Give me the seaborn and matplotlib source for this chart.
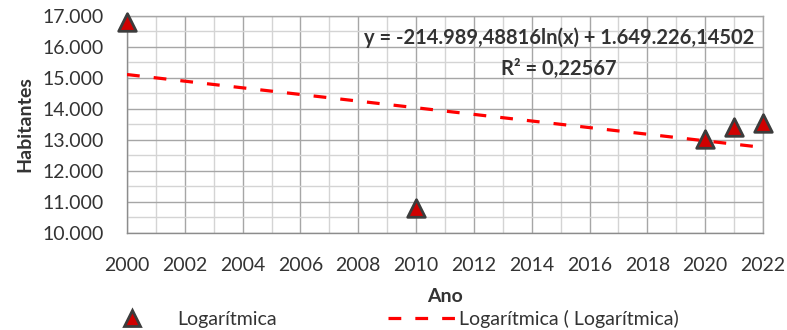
import numpy as np
import pandas as pd
import seaborn as sns
import matplotlib
matplotlib.use("Agg")
import matplotlib.pyplot as plt
from matplotlib.lines import Line2D
from matplotlib.ticker import FuncFormatter, MultipleLocator

# Population by year
anos = [2000, 2010, 2020, 2021, 2022]
habitantes = [16800, 10810, 13030, 13420, 13540]

# Logarithmic trend coefficients: y = a*ln(x) + b
coef_a = -214989.48816
coef_b = 1649226.14502
r2_label = "R² = 0,22567"
eq_label = "y = -214.989,48816ln(x) + 1.649.226,14502"

serie_label = "Logarítmica"
trend_label = "Logarítmica ( Logarítmica)"

sns.set_theme(style="white")
plt.rcParams["font.family"] = ["Lato", "DejaVu Sans"]

df = pd.DataFrame({"Ano": anos, "Habitantes": habitantes})
trend_x = np.linspace(min(anos), 2022, 200)
trend_df = pd.DataFrame({"Ano": trend_x,
                         "Habitantes": coef_a * np.log(trend_x) + coef_b})

text_col = "#333333"
fs = 14

fig = plt.figure(figsize=(7.87, 3.30), dpi=100)
ax = fig.add_axes([127 / 787, 1 - 233 / 330, (763 - 127) / 787, (233 - 16) / 330])

ax.set_xlim(2000, 2022)
ax.set_ylim(10000, 17000)
ax.xaxis.set_major_locator(MultipleLocator(2))
ax.xaxis.set_minor_locator(MultipleLocator(1))
ax.yaxis.set_major_locator(MultipleLocator(1000))
ax.yaxis.set_minor_locator(MultipleLocator(500))
ax.yaxis.set_major_formatter(FuncFormatter(lambda v, p: f"{int(v):,}".replace(",", ".")))
ax.xaxis.set_major_formatter(FuncFormatter(lambda v, p: f"{int(v)}"))

ax.grid(which="major", color="#a6a6a6", linewidth=1.0)
ax.grid(which="minor", color="#d4d4d4", linewidth=1.0)
ax.set_axisbelow(True)
for s in ["top", "right"]:
    ax.spines[s].set_color("#a6a6a6")
    ax.spines[s].set_linewidth(1.0)
for s in ["left", "bottom"]:
    ax.spines[s].set_color("#8c8c8c")
    ax.spines[s].set_linewidth(1.0)

ax.tick_params(axis="both", which="major", direction="out", length=7,
               width=1, color="#8c8c8c", labelsize=fs, labelcolor=text_col)
ax.tick_params(axis="y", pad=10)
ax.tick_params(axis="x", pad=10)
ax.tick_params(which="minor", length=0)

dash = (0, (4.0, 4.4))
sns.lineplot(data=trend_df, x="Ano", y="Habitantes", ax=ax, color="#ff0000",
             linewidth=2.3, linestyle="--", legend=False, zorder=3)
ax.lines[-1].set_linestyle(dash)

sns.scatterplot(data=df, x="Ano", y="Habitantes", ax=ax, marker="^", s=160,
                color="#d00000", edgecolor="#3c3c3c", linewidth=2.0,
                legend=False, zorder=5, clip_on=False)

ax.set_xlabel("Ano", fontsize=fs, fontweight="bold", color=text_col, labelpad=10)
ax.set_ylabel("Habitantes", fontsize=fs, fontweight="bold", color=text_col, labelpad=6)

ax.text(559 / 787, 1 - 38 / 330, eq_label, transform=fig.transFigure,
        ha="center", va="center", fontsize=14.5, fontweight="bold", color=text_col)
ax.text(559 / 787, 1 - 69 / 330, r2_label, transform=fig.transFigure,
        ha="center", va="center", fontsize=14.5, fontweight="bold", color=text_col)

h1 = Line2D([], [], linestyle="none", marker="^", markersize=11,
            markerfacecolor="#d00000", markeredgecolor="#3c3c3c", markeredgewidth=2.0)
h2 = Line2D([], [], color="#ff0000", linewidth=2.3, linestyle=dash)

leg1 = fig.legend([h1], [serie_label], loc="center left",
                  bbox_to_anchor=(120 / 787, 1 - 319 / 330), frameon=False,
                  fontsize=fs, handlelength=1.2, handletextpad=1.75,
                  borderpad=0, borderaxespad=0)
leg2 = fig.legend([h2], [trend_label], loc="center left",
                  bbox_to_anchor=(388 / 787, 1 - 319 / 330), frameon=False,
                  fontsize=fs, handlelength=3.5, handletextpad=0.15,
                  borderpad=0, borderaxespad=0)
for leg in (leg1, leg2):
    for t in leg.get_texts():
        t.set_color(text_col)

fig.savefig("out.png", dpi=100)
